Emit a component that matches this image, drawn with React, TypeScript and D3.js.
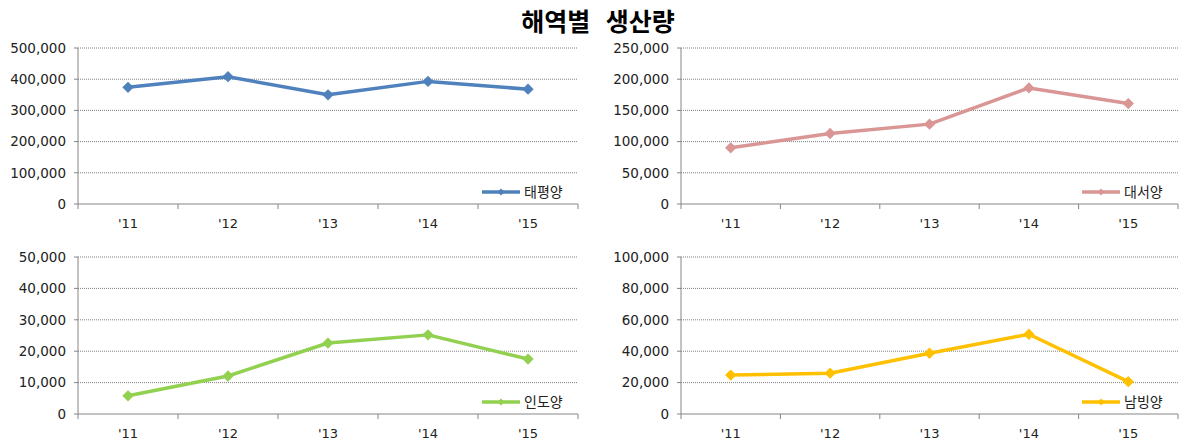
import React from "react";
import * as d3 from "d3";

const years = ["'11", "'12", "'13", "'14", "'15"];
const pacific = [374000, 408000, 350000, 393000, 368000];
const atlantic = [90000, 113000, 128000, 186000, 161000];
const indian = [5800, 12100, 22600, 25200, 17500];
const southern = [24800, 26000, 38700, 50800, 20600];

const pacificTicks = [0, 100000, 200000, 300000, 400000, 500000];
const atlanticTicks = [0, 50000, 100000, 150000, 200000, 250000];
const indianTicks = [0, 10000, 20000, 30000, 40000, 50000];
const southernTicks = [0, 20000, 40000, 60000, 80000, 100000];

const panels = [
  { name: "태평양", values: pacific, ticks: pacificTicks, color: "#4F81BD", x0: 78, x1: 578, y0: 48, y1: 204 },
  { name: "대서양", values: atlantic, ticks: atlanticTicks, color: "#D99694", x0: 681, x1: 1178, y0: 48, y1: 204 },
  { name: "인도양", values: indian, ticks: indianTicks, color: "#92D050", x0: 78, x1: 578, y0: 257, y1: 414 },
  { name: "남빙양", values: southern, ticks: southernTicks, color: "#FFC000", x0: 681, x1: 1178, y0: 257, y1: 414 },
];

const fmt = d3.format(",");
const FONT = "'Noto Sans CJK KR', 'Liberation Sans', sans-serif";
const NUMFONT = "'DejaVu Sans', sans-serif";

function Panel({ p }: { p: (typeof panels)[number] }) {
  const x = d3.scaleBand<string>().domain(years).range([p.x0, p.x1]);
  const y = d3
    .scaleLinear()
    .domain([0, p.ticks[p.ticks.length - 1]])
    .range([p.y1, p.y0]);
  const line = d3
    .line<number>()
    .x((_, i) => (x(years[i]) as number) + x.bandwidth() / 2)
    .y((d) => y(d));
  const diamond = d3.symbol().type(d3.symbolSquare).size(64)() as string;
  const tickEdges = [...years.map((c) => x(c) as number), p.x1];
  return (
    <g>
      {p.ticks.map((t) => (
        <g key={t}>
          {t > 0 && (
            <line x1={p.x0} x2={p.x1} y1={y(t)} y2={y(t)} stroke="#7f7f7f" strokeWidth={1} strokeDasharray="1,1" />
          )}
          <line x1={p.x0 - 4} x2={p.x0} y1={y(t)} y2={y(t)} stroke="#868686" />
          <text x={p.x0 - 12} y={y(t)} dy="0.35em" textAnchor="end" fontSize={13.5} fill="#222" fontFamily={NUMFONT}>
            {fmt(t)}
          </text>
        </g>
      ))}
      <line x1={p.x0} x2={p.x0} y1={p.y0} y2={p.y1} stroke="#868686" />
      <line x1={p.x0} x2={p.x1} y1={p.y1} y2={p.y1} stroke="#868686" />
      {tickEdges.map((e, i) => (
        <line key={i} x1={e} x2={e} y1={p.y1} y2={p.y1 + 5} stroke="#868686" />
      ))}
      {years.map((c) => (
        <text
          key={c}
          x={(x(c) as number) + x.bandwidth() / 2}
          y={p.y1 + 24}
          textAnchor="middle"
          fontSize={13}
          fill="#222"
          fontFamily={NUMFONT}
        >
          {c}
        </text>
      ))}
      <path d={line(p.values) as string} fill="none" stroke={p.color} strokeWidth={3.5} strokeLinejoin="round" />
      {p.values.map((v, i) => (
        <path
          key={i}
          d={diamond}
          transform={`translate(${(x(years[i]) as number) + x.bandwidth() / 2},${y(v)}) rotate(45)`}
          fill={p.color}
        />
      ))}
      <g transform={`translate(${p.x1 - 96},${p.y1 - 12})`}>
        <line x1={0} x2={38} y1={0} y2={0} stroke={p.color} strokeWidth={3.5} />
        <path d={d3.symbol().type(d3.symbolSquare).size(25)() as string} transform="translate(19,0) rotate(45)" fill={p.color} />
        <text x={42} y={0} dy="0.35em" fontSize={14} fill="#222" fontFamily={FONT}>
          {p.name}
        </text>
      </g>
    </g>
  );
}

export default function App() {
  return (
    <svg width={1183} height={443} style={{ position: "absolute", left: 0, top: 0, background: "#fff" }}>
      <text x={598} y={31} textAnchor="middle" fontSize={25} fontWeight="bold" fill="#000" fontFamily={FONT} wordSpacing={10}>
        해역별 생산량
      </text>
      {panels.map((p) => (
        <Panel key={p.name} p={p} />
      ))}
    </svg>
  );
}
